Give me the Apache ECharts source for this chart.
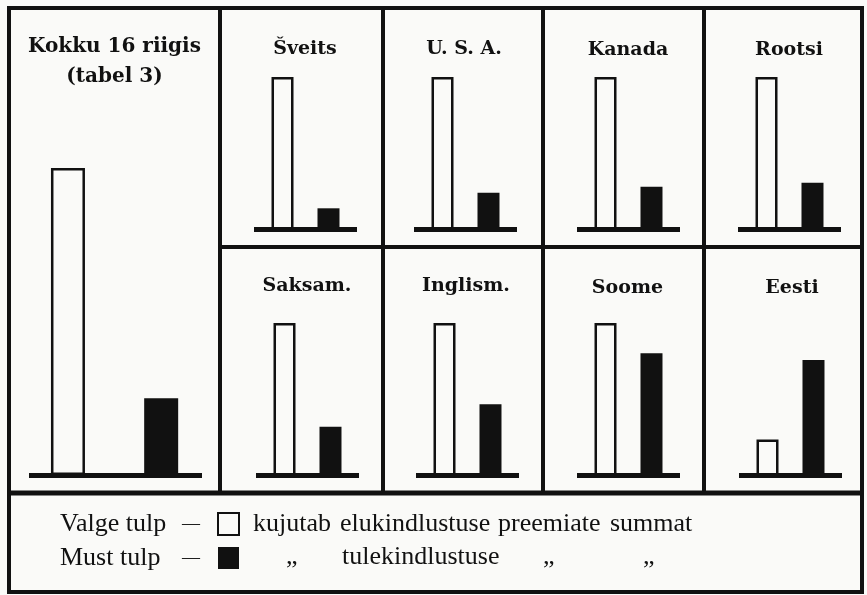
<!DOCTYPE html>
<html>
<head>
<meta charset="utf-8">
<script src="https://cdn.jsdelivr.net/npm/echarts@6/dist/echarts.min.js"></script>
<style>html,body{margin:0;padding:0;background:#fafaf8;}#chart{width:867px;height:595px;}</style>
</head>
<body>
<div id="chart"></div>
<script>
// ---- data ----
const panelTitles = [['Kokku 16 riigis', '(tabel 3)'], ['Šveits'], ['U. S. A.'], ['Kanada'], ['Rootsi'], ['Saksam.'], ['Inglism.'], ['Soome'], ['Eesti']];
const barNames = ['Valge tulp', 'Must tulp'];
const whiteValues = [100, 100, 100, 100, 100, 100, 100, 100, 23.6];
const blackValues = [25.0, 13.9, 24.1, 28.1, 30.7, 32.0, 46.7, 80.1, 75.7];
const legendLine1 = ['kujutab', 'elukindlustuse', 'preemiate', 'summat'];
const legendLine2 = ['„', 'tulekindlustuse', '„', '„'];

// ---- layout ----
const BG = '#fafaf8', INK = '#111111';
const C = {xMin: -0.62, xMax: 1.62, width: 103, barWidth: 22, fs: 19};
const layout = [
  {left: 29, width: 173, top: 168, height: 307, xMin: -0.418, xMax: 1.438, barWidth: 34, tx: 114.5, ty: [47, 77], fs: 20},
  Object.assign({}, C, {left: 254, top: 77, height: 152.5, tx: 305, ty: [49]}),
  Object.assign({}, C, {left: 414, top: 77, height: 152.5, tx: 464, ty: [49]}),
  Object.assign({}, C, {left: 577, top: 77, height: 152.5, tx: 628, ty: [50]}),
  Object.assign({}, C, {left: 738, top: 77, height: 152.5, tx: 789, ty: [50]}),
  Object.assign({}, C, {left: 256, top: 323, height: 152.5, tx: 307, ty: [286]}),
  Object.assign({}, C, {left: 416, top: 323, height: 152.5, tx: 466, ty: [286]}),
  Object.assign({}, C, {left: 577, top: 323, height: 152.5, tx: 627.5, ty: [288]}),
  Object.assign({}, C, {left: 739, top: 323, height: 152.5, tx: 792, ty: [288]})
];
const line1X = [253, 340, 498, 610];
const line2X = [286, 342, 543, 643];

const series = [];
layout.forEach((l, i) => {
  series.push({
    type: 'bar', name: barNames[0], xAxisIndex: i, yAxisIndex: i, barWidth: l.barWidth, barGap: '-100%',
    itemStyle: {color: BG, borderColor: INK, borderWidth: 2.5},
    data: [[0, whiteValues[i]]]
  });
  series.push({
    type: 'bar', name: barNames[1], xAxisIndex: i, yAxisIndex: i, barWidth: l.barWidth, barGap: '-100%',
    itemStyle: {color: INK},
    data: [[1, blackValues[i]]]
  });
});

const graphic = [];
// frame
graphic.push({type: 'rect', shape: {x: 9, y: 8, width: 853, height: 584}, style: {fill: null, stroke: INK, lineWidth: 4}, z: 10});
const hl = (x1, y1, x2, y2, w) => graphic.push({type: 'line', shape: {x1, y1, x2, y2}, style: {stroke: INK, lineWidth: w}, z: 10});
hl(9, 493, 862, 493, 5);
hl(220, 8, 220, 493, 4);
hl(383, 8, 383, 493, 4);
hl(543, 8, 543, 493, 4);
hl(704, 8, 704, 493, 4);
hl(220, 247, 862, 247, 4);
// panel titles
layout.forEach((l, i) => {
  panelTitles[i].forEach((t, k) => {
    graphic.push({type: 'text', x: l.tx, y: l.ty[k], z: 10,
      style: {text: t, fill: INK, font: 'bold ' + l.fs + 'px "DejaVu Serif"', align: 'center', verticalAlign: 'middle'}});
  });
});
// legend explanatory words
const lf = '26px "Liberation Serif"';
legendLine1.forEach((w, k) => graphic.push({type: 'text', x: line1X[k], y: 524, z: 10, style: {text: w, fill: INK, font: lf, align: 'left', verticalAlign: 'middle'}}));
legendLine2.forEach((w, k) => graphic.push({type: 'text', x: line2X[k], y: 557, z: 10, style: {text: w, fill: INK, font: lf, align: 'left', verticalAlign: 'middle'}}));

const chart = echarts.init(document.getElementById('chart'), null, {renderer: 'canvas'});
chart.setOption({
  backgroundColor: BG,
  animation: false,
  grid: layout.map(l => ({left: l.left, top: l.top, width: l.width, height: l.height})),
  xAxis: layout.map((l, i) => ({
    type: 'value', gridIndex: i, min: l.xMin, max: l.xMax, z: 5,
    axisLine: {show: true, onZero: false, lineStyle: {color: INK, width: 5, cap: 'butt'}},
    axisTick: {show: false}, axisLabel: {show: false}, splitLine: {show: false}
  })),
  yAxis: layout.map((l, i) => ({type: 'value', gridIndex: i, min: 0, max: 100, show: false})),
  legend: {
    orient: 'vertical', left: 55, top: 506, align: 'right', itemGap: 8,
    itemWidth: 21, itemHeight: 22, icon: 'rect', selectedMode: false,
    data: [
      {name: barNames[0], itemStyle: {color: BG, borderColor: INK, borderWidth: 2}},
      {name: barNames[1], itemStyle: {color: INK}}
    ],
    formatter: name => '{n|' + name + '}{d|—}',
    textStyle: {
      color: INK, fontFamily: 'Liberation Serif', fontSize: 26, lineHeight: 24,
      rich: {
        n: {width: 122, align: 'left', color: INK, fontFamily: 'Liberation Serif', fontSize: 26, lineHeight: 24},
        d: {width: 31, align: 'left', color: INK, fontFamily: 'Liberation Serif', fontSize: 18, lineHeight: 24}
      }
    }
  },
  series: series,
  graphic: graphic
});
</script>
</body>
</html>
